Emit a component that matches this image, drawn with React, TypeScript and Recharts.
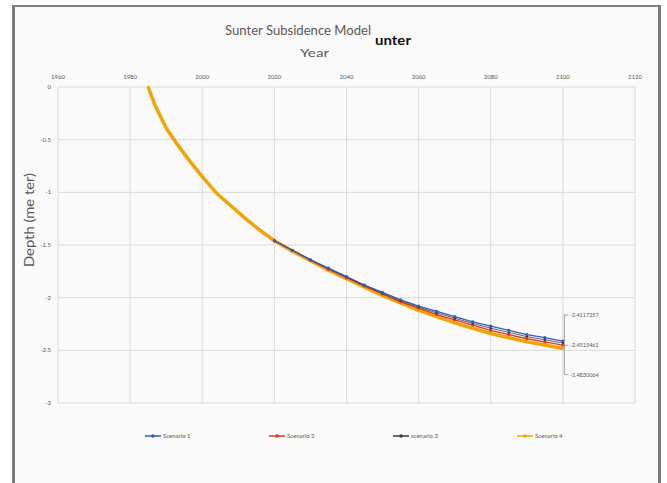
import React from "react";
import { LineChart, Line, XAxis, YAxis, CartesianGrid } from "recharts";

const X_TICKS = [1960, 1980, 2000, 2020, 2040, 2060, 2080, 2100, 2120];
const Y_TICKS = [0, -0.5, -1, -1.5, -2, -2.5, -3];

const YEARS = [1985, 1987, 1990, 1993, 1996, 2000, 2004, 2008, 2012, 2016, 2020, 2025, 2030, 2035, 2040, 2045, 2050, 2055, 2060, 2065, 2070, 2075, 2080, 2085, 2090, 2095, 2100];
const SCENARIO_4 = [0, -0.18, -0.39, -0.54, -0.68, -0.85, -1.01, -1.13, -1.25, -1.36, -1.46, -1.56, -1.65, -1.74, -1.82, -1.9, -1.98, -2.05, -2.12, -2.18, -2.24, -2.29, -2.34, -2.38, -2.42, -2.45, -2.4830064];

const SCEN_YEARS = [2020, 2025, 2030, 2035, 2040, 2045, 2050, 2055, 2060, 2065, 2070, 2075, 2080, 2085, 2090, 2095, 2100];
const SCENARIO_1 = [-1.46, -1.55, -1.64, -1.72, -1.8, -1.88, -1.95, -2.02, -2.08, -2.13, -2.18, -2.23, -2.27, -2.31, -2.35, -2.38, -2.4117257];
const SCENARIO_2 = [-1.46, -1.55, -1.645, -1.73, -1.81, -1.89, -1.965, -2.04, -2.1, -2.16, -2.21, -2.26, -2.31, -2.35, -2.39, -2.42, -2.4515461];
const SCENARIO_3 = [-1.46, -1.55, -1.64, -1.725, -1.805, -1.885, -1.96, -2.03, -2.09, -2.145, -2.195, -2.245, -2.29, -2.33, -2.37, -2.4, -2.43];

const LEGEND = [
  { name: "Scenario 1", color: "#2f5cb8" },
  { name: "Scenario 2", color: "#e8341c" },
  { name: "scenario 3", color: "#3a3a3a" },
  { name: "Scenario 4", color: "#f2a20a" },
];

const toRows = (xs: number[], ys: number[]) => xs.map((year, i) => ({ year, value: ys[i] }));

const FONT = "Lato, 'Open Sans', sans-serif";
const GRAY = "#595959";

const endLabel = (lastIndex: number, dy: number, withBracket: boolean) => (props: any) => {
  const { x, y, index, value } = props;
  if (index !== lastIndex) return null;
  const bx = x + 1.5;
  const ly = y + dy;
  return (
    <g>
      {withBracket && (
        <line x1={bx} x2={bx} y1={y - 31} y2={y + 29} stroke="#8c8c8c" strokeWidth={0.8} />
      )}
      <line x1={bx} x2={bx + 4} y1={ly} y2={ly} stroke="#8c8c8c" strokeWidth={0.8} />
      <text x={bx + 5.5} y={ly + 2} fontSize={5.5} fill={GRAY} fontFamily={FONT}>
        {String(value)}
      </text>
    </g>
  );
};

export default function App() {
  const s1 = toRows(SCEN_YEARS, SCENARIO_1);
  const s2 = toRows(SCEN_YEARS, SCENARIO_2);
  const s3 = toRows(SCEN_YEARS, SCENARIO_3);
  const s4 = toRows(YEARS, SCENARIO_4);
  const legendStart = 145;
  const legendStep = 124;
  return (
    <div style={{ position: "absolute", left: 0, top: 0, width: 667, height: 483, background: "#ffffff" }}>
      <div
        style={{
          position: "absolute",
          left: 12,
          top: 5,
          width: 643,
          height: 476,
          background: "#fafafa",
          borderTop: "2px solid #7f7f7f",
          borderLeft: "3px solid #7a7a7a",
          borderRight: "3px solid #7a7a7a",
          borderBottom: "1px solid #d4d4d4",
        }}
      />
      <div style={{ position: "absolute", left: 0, top: 0 }}>
        <LineChart width={667} height={483} margin={{ top: 77, left: 46, right: 32, bottom: 80 }}>
          <CartesianGrid stroke="#d9d9d9" strokeWidth={1} />
          <XAxis
            xAxisId={0}
            dataKey="year"
            type="number"
            orientation="top"
            height={10}
            domain={[1960, 2120]}
            ticks={X_TICKS}
            allowDuplicatedCategory={false}
            axisLine={false}
            tickLine={false}
            tickSize={0}
            tickMargin={8}
            tick={{ fontSize: 6, fill: GRAY, fontFamily: FONT }}
          />
          <YAxis
            type="number"
            width={12}
            domain={[-3, 0]}
            ticks={Y_TICKS}
            axisLine={false}
            tickLine={false}
            tickSize={0}
            tickMargin={7}
            tick={{ fontSize: 6, fill: GRAY, fontFamily: FONT }}
          />
          <Line
            data={s4}
            dataKey="value"
            name="Scenario 4"
            stroke={LEGEND[3].color}
            strokeWidth={3.5}
            dot={{ r: 1.3, fill: "#f5a800", stroke: "none" }}
            isAnimationActive={false}
            label={endLabel(s4.length - 1, 26, false)}
          />
          <Line
            data={s2}
            dataKey="value"
            name="Scenario 2"
            stroke={LEGEND[1].color}
            strokeWidth={1.3}
            dot={{ r: 1.6, fill: LEGEND[1].color, stroke: "none" }}
            isAnimationActive={false}
            label={endLabel(s2.length - 1, 0, true)}
          />
          <Line
            data={s3}
            dataKey="value"
            name="scenario 3"
            stroke={LEGEND[2].color}
            strokeWidth={0.8}
            dot={{ r: 1.2, fill: LEGEND[2].color, stroke: "none" }}
            isAnimationActive={false}
          />
          <Line
            data={s1}
            dataKey="value"
            name="Scenario 1"
            stroke={LEGEND[0].color}
            strokeWidth={1.3}
            dot={{ r: 1.6, fill: LEGEND[0].color, stroke: "none" }}
            isAnimationActive={false}
            label={endLabel(s1.length - 1, -26, false)}
          />
        </LineChart>
      </div>
      <svg
        width={667}
        height={483}
        style={{ position: "absolute", left: 0, top: 0, pointerEvents: "none" }}
      >
        <text x={225} y={35} fontSize={14} fill={GRAY} fontFamily={FONT} textLength={146} lengthAdjust="spacingAndGlyphs">
          Sunter Subsidence Model
        </text>
        <text x={375} y={45} fontSize={13} fontWeight="bold" fill="#111111" fontFamily={FONT} textLength={36} lengthAdjust="spacingAndGlyphs">
          unter
        </text>
        <text x={300} y={57} fontSize={12} fill={GRAY} fontFamily={FONT} textLength={29} lengthAdjust="spacingAndGlyphs">
          Year
        </text>
        <text
          x={0}
          y={0}
          transform="translate(33.5,220) rotate(-90)"
          textAnchor="middle"
          fontSize={13}
          fill={GRAY}
          fontFamily={FONT}
          textLength={94}
          lengthAdjust="spacingAndGlyphs"
        >
          Depth (me ter)
        </text>
        {LEGEND.map((item, i) => {
          const lx = legendStart + i * legendStep;
          const ly = 436;
          return (
            <g key={item.name}>
              <line x1={lx} x2={lx + 16} y1={ly} y2={ly} stroke={item.color} strokeWidth={1.5} />
              <circle cx={lx + 8} cy={ly} r={1.8} fill={item.color} />
              <text x={lx + 18} y={ly + 2} fontSize={6} fill={GRAY} fontFamily={FONT}>
                {item.name}
              </text>
            </g>
          );
        })}
      </svg>
    </div>
  );
}
